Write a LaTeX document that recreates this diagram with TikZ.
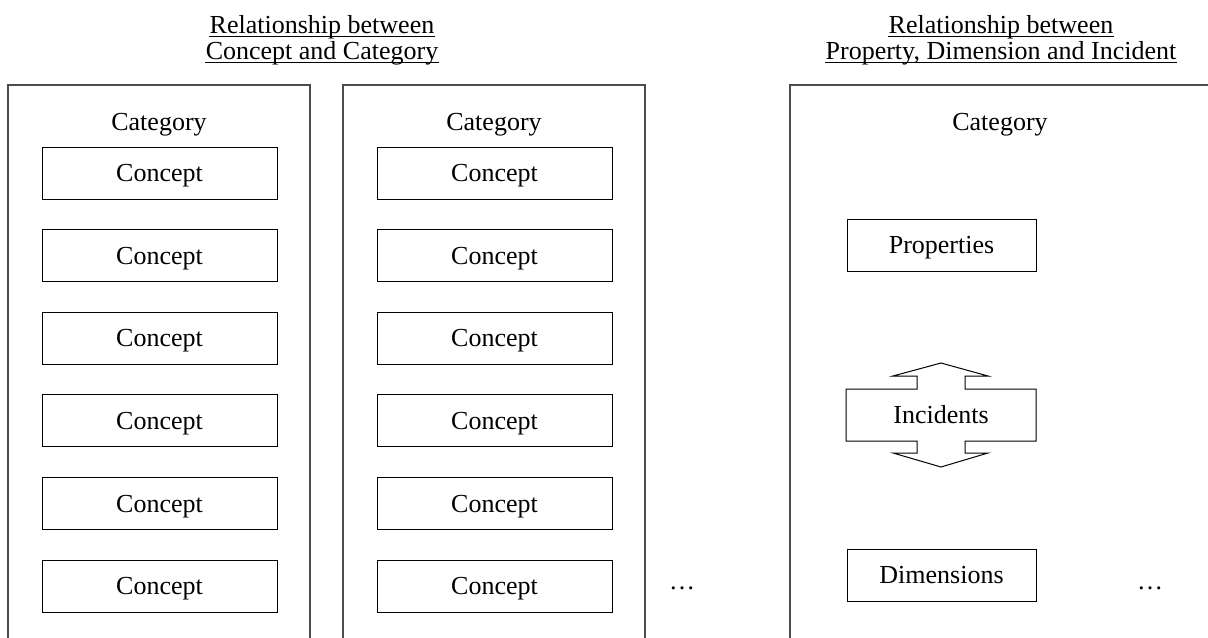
\documentclass[tikz,border=0pt]{standalone}
\usepackage{fontspec}
\setmainfont{Liberation Serif}
\begin{document}
\begin{tikzpicture}[x=0.75pt, y=-0.75pt,
  lbl/.style={font=\fontsize{19.5pt}{23pt}\selectfont, inner sep=0pt},
  frame/.style={draw=black!70, line width=0.9pt},
  item/.style={lbl, draw, line width=0.75pt, minimum width=176.25pt,
    minimum height=39pt, text height=12.9pt, text depth=0pt},
  facet/.style={item, minimum width=141.75pt},
  uline/.style={line width=0.8pt}]
\useasboundingbox (0,0) rectangle (1208,637);

% headings
\node[lbl, anchor=base] (h1a) at (322,33) {Relationship between};
\node[lbl, anchor=base] (h1b) at (322,59) {Concept and Category};
\node[lbl, anchor=base] (h2a) at (1001,33) {Relationship between};
\node[lbl, anchor=base] (h2b) at (1001,59) {Property, Dimension and Incident};
\foreach \h in {h1a,h1b,h2a,h2b}
  \draw[uline] ([yshift=-2.6pt]\h.base west) -- ([yshift=-2.6pt]\h.base east);

% category frames (open at the bottom)
\draw[frame] (8,640) -- (8,85) -- (310,85) -- (310,640);
\draw[frame] (343,640) -- (343,85) -- (645,85) -- (645,640);
\draw[frame] (790,640) -- (790,85) -- (1212,85);

\node[lbl, anchor=base] (cat1) at (159,130) {Category};
\node[lbl, anchor=base] (cat2) at (494,130) {Category};
\node[lbl, anchor=base] (cat3) at (1000,130) {Category};

% concepts
\foreach \i/\y in {1/173,2/255.6,3/338.2,4/420.8,5/503.4,6/586}{
  \node[item] (a\i) at (159.5,\y) {Concept};
  \node[item] (b\i) at (494.5,\y) {Concept};
}

% properties, incidents, dimensions
\node[facet] (prop) at (941.5,245) {Properties};
\node[facet] (dim) at (941.5,575) {Dimensions};

\draw[line width=0.75pt, line join=miter]
  (941,363) -- (988,376) -- (965,376) -- (965,389) -- (1036,389)
  -- (1036,441) -- (965,441) -- (965,453) -- (988,453) -- (941,467)
  -- (893,453) -- (917,453) -- (917,441) -- (846,441) -- (846,389)
  -- (917,389) -- (917,376) -- (893,376) -- cycle;
\node[lbl, text height=12.9pt, text depth=0pt] (inc) at (941,415) {Incidents};

% continuation marks
\node[lbl, anchor=base] (more1) at (682,589) {…};
\node[lbl, anchor=base] (more2) at (1150,589) {…};
\end{tikzpicture}
\end{document}
